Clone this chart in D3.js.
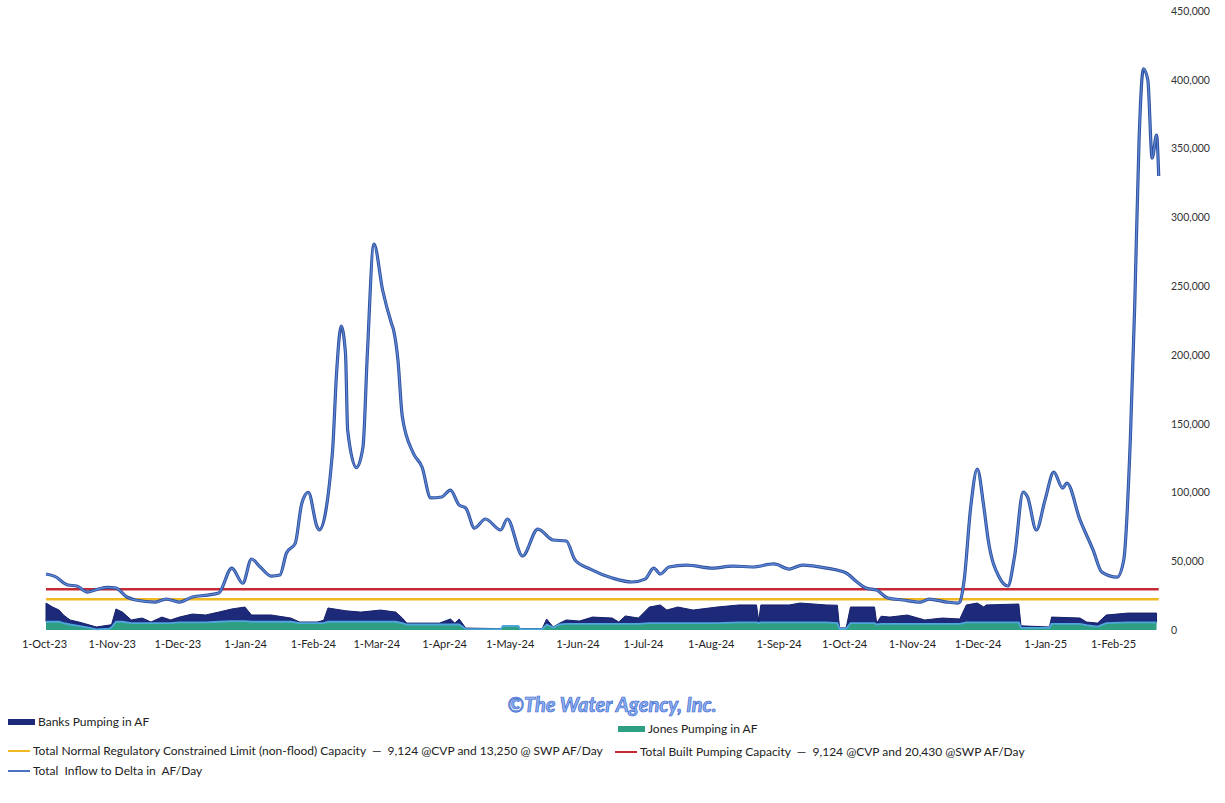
<!DOCTYPE html>
<html>
<head>
<meta charset="utf-8">
<script src="https://cdn.jsdelivr.net/npm/d3@7"></script>
<style>
  body { margin: 0; background: #fff; }
  svg { display: block; font-family: Lato, "Open Sans", sans-serif; }
</style>
</head>
<body>
<svg id="chart"></svg>
<script>
// Total inflow to Delta, AF/Day
const inflowDates = ["2023-10-01","2023-10-05","2023-10-11","2023-10-15","2023-10-20","2023-10-25","2023-10-29","2023-11-02","2023-11-07","2023-11-11","2023-11-20","2023-11-25","2023-12-01","2023-12-07","2023-12-14","2023-12-19","2023-12-25","2023-12-30",
  "2024-01-03","2024-01-07","2024-01-12","2024-01-16","2024-01-19","2024-01-23","2024-01-26","2024-01-29","2024-02-02","2024-02-03","2024-02-09","2024-02-11","2024-02-13","2024-02-15","2024-02-16","2024-02-20","2024-02-23","2024-02-25","2024-02-28",
  "2024-03-03","2024-03-07","2024-03-08","2024-03-10","2024-03-12","2024-03-17","2024-03-21","2024-03-25","2024-03-30","2024-04-03","2024-04-07","2024-04-10","2024-04-14","2024-04-19","2024-04-26","2024-04-29",
  "2024-05-06","2024-05-13","2024-05-20","2024-05-26","2024-05-30","2024-06-06","2024-06-16","2024-06-25","2024-07-01","2024-07-05","2024-07-08","2024-07-12","2024-07-20","2024-08-01","2024-08-10","2024-08-19","2024-08-29",
  "2024-09-05","2024-09-11","2024-09-22","2024-10-01","2024-10-06","2024-10-10","2024-10-15","2024-10-20","2024-10-27","2024-11-04","2024-11-08","2024-11-16","2024-11-21","2024-11-22","2024-11-24","2024-11-27","2024-11-30",
  "2024-12-03","2024-12-05","2024-12-10","2024-12-14","2024-12-17","2024-12-21","2024-12-23","2024-12-27","2024-12-31","2025-01-04","2025-01-08","2025-01-10","2025-01-16","2025-01-22","2025-01-26",
  "2025-02-02","2025-02-05","2025-02-08","2025-02-10","2025-02-12","2025-02-14","2025-02-16","2025-02-18","2025-02-20","2025-02-21"];
const inflowAF = [40700,39000,32700,32000,27600,29800,31000,30500,24000,21800,20300,22500,20300,24000,25400,26900,45000,34000,
  51600,45800,39200,40000,56000,63000,92000,100000,75000,72700,128600,189000,221000,201000,145000,118000,133000,201000,280500,
  247000,223000,218000,196000,155000,128600,118500,96000,96700,101700,90800,88700,74100,80700,72700,80700,
  53800,73400,65400,64700,50900,44300,37800,34900,37000,45000,40700,45800,47200,45000,46500,45800,48000,
  44300,47200,45000,41400,34900,30500,29000,23300,21800,20300,22500,20300,19600,20300,36300,89400,117000,
  89400,65400,38500,32000,53000,100300,96700,72700,94500,114800,103200,106800,80000,58100,42100,
  38500,50900,138000,234700,356000,408000,400000,343000,359700,330000];

// Pumping in AF (Banks stacked on Jones)
const pumpDates = ["2023-10-01","2023-10-04","2023-10-07","2023-10-09","2023-10-12","2023-10-16","2023-10-21","2023-10-24","2023-10-30","2023-10-31","2023-11-02","2023-11-05","2023-11-09","2023-11-14","2023-11-18","2023-11-23","2023-11-27",
  "2023-12-01","2023-12-07","2023-12-13","2023-12-19","2023-12-25","2023-12-31","2024-01-03","2024-01-12","2024-01-21","2024-01-25","2024-02-02","2024-02-05","2024-02-07","2024-02-15","2024-02-22",
  "2024-03-02","2024-03-09","2024-03-12","2024-03-14","2024-03-29","2024-04-03","2024-04-05","2024-04-07","2024-04-10","2024-04-26","2024-04-27","2024-05-04","2024-05-05","2024-05-15","2024-05-17","2024-05-20","2024-05-23","2024-05-26",
  "2024-06-01","2024-06-07","2024-06-16","2024-06-19","2024-06-22","2024-06-28","2024-07-03","2024-07-08","2024-07-11","2024-07-16","2024-07-23","2024-08-03","2024-08-13","2024-08-21","2024-08-22","2024-08-23",
  "2024-09-05","2024-09-10","2024-09-22","2024-09-27","2024-09-28","2024-10-01","2024-10-03","2024-10-14","2024-10-15","2024-10-17","2024-10-21","2024-10-29","2024-11-06","2024-11-14","2024-11-22","2024-11-25","2024-11-30",
  "2024-12-03","2024-12-04","2024-12-19","2024-12-20","2025-01-02","2025-01-03","2025-01-16","2025-01-19","2025-01-24","2025-01-28","2025-02-07","2025-02-20"];
const banksAF = [13600,10700,8500,5900,3300,2800,2100,1700,2600,2000,9300,7000,2300,3700,800,4400,2300,
  3900,6100,5400,7000,8800,10200,4900,4900,2700,800,800,2000,10000,8000,7000,
  8500,7000,3700,1000,1000,4000,1000,4000,600,400,0,0,400,400,4000,400,1000,2800,
  2000,4900,4200,1300,5700,4200,11700,13200,9500,11700,9500,11700,12700,12700,2000,12700,
  12700,14100,12700,13000,700,700,11700,11700,1000,5500,4900,6400,2800,4200,3500,12700,14100,
  11200,12700,13400,1500,700,4900,4200,2300,2500,5900,6800,6800];
const jonesAF = [6000,6000,6000,5000,4000,3000,1500,500,1000,2000,6000,6000,5000,5000,5000,5000,5000,
  5500,5500,5500,6000,6500,6500,6000,6000,6000,5000,5000,5000,6000,6000,6000,
  6000,6000,5000,4000,4000,4000,4000,4000,800,600,2900,2900,600,600,4000,1800,4000,4500,
  4500,4500,4500,4500,4500,4500,5000,5000,5000,5000,5000,5000,5500,5500,5000,5500,
  5500,5500,5500,5000,800,800,5000,5000,4000,4500,4500,4500,4500,4500,4500,5500,5500,
  5500,5500,5500,1500,1500,4500,4500,3500,2500,5000,5500,5500];

// capacities, AF/Day
const builtCapacity = 9124 + 20430;
const normalLimit = 9124 + 13250;

const xTickDates = ["2023-10-01","2023-11-01","2023-12-01","2024-01-01","2024-02-01","2024-03-01","2024-04-01","2024-05-01","2024-06-01","2024-07-01","2024-08-01","2024-09-01","2024-10-01","2024-11-01","2024-12-01","2025-01-01","2025-02-01"];
const yTicks = [0,50000,100000,150000,200000,250000,300000,350000,400000,450000];

const legendItems = [
  {label: "Banks Pumping in AF", kind: "rect", color: "#1d2a7a", x: 8, y: 722},
  {label: "Jones Pumping in AF", kind: "rect", color: "#2e9f82", x: 618, y: 729},
  {label: "Total Normal Regulatory Constrained Limit (non-flood) Capacity  \u2014  9,124 @CVP and 13,250 @ SWP AF/Day", kind: "line", color: "#f0b823", x: 8, y: 751},
  {label: "Total Built Pumping Capacity  \u2014  9,124 @CVP and 20,430 @SWP AF/Day", kind: "line", color: "#c42a34", x: 615, y: 752},
  {label: "Total  Inflow to Delta in  AF/Day", kind: "line", color: "#4a72c0", x: 8, y: 771}
];

const width = 1225, height = 803;
const parse = d3.timeParse("%Y-%m-%d");

const svg = d3.select("#chart")
    .attr("width", width)
    .attr("height", height)
    .style("background-color", "#fff");

const x = d3.scaleTime()
    .domain([parse("2023-10-01"), parse("2025-02-01")])
    .range([46, 1115]);

const y = d3.scaleLinear()
    .domain([0, 450000])
    .range([630, 11]);

// stacked pumping areas
const pumpRows = pumpDates.map((d, i) => ({date: parse(d), jones: jonesAF[i], banks: banksAF[i]}));
const stack = d3.stack().keys(["jones", "banks"]);
const series = stack(pumpRows);

const area = d3.area()
    .x(d => x(d.data.date))
    .y0(d => y(d[0]))
    .y1(d => y(d[1]));

svg.append("path")
    .datum(series[1])
    .attr("d", area)
    .attr("fill", "#1d2a7a")
    .attr("stroke", "#16206a")
    .attr("stroke-width", 1);

svg.append("path")
    .datum(series[0])
    .attr("d", area)
    .attr("fill", "#2e9f82");

// light blue edge on top of Jones
svg.append("path")
    .datum(series[0])
    .attr("d", d3.line().x(d => x(d.data.date)).y(d => y(d[1])))
    .attr("fill", "none")
    .attr("stroke", "#4fa6dc")
    .attr("stroke-width", 1.8);

// capacity lines
const xEnd = x(parse("2025-02-21"));
svg.append("line")
    .attr("x1", x(parse("2023-10-01"))).attr("x2", xEnd)
    .attr("y1", y(normalLimit)).attr("y2", y(normalLimit))
    .attr("stroke", "#f0b823")
    .attr("stroke-width", 2.5);

svg.append("line")
    .attr("x1", x(parse("2023-10-01"))).attr("x2", xEnd)
    .attr("y1", y(builtCapacity)).attr("y2", y(builtCapacity))
    .attr("stroke", "#c42a34")
    .attr("stroke-width", 2.5);

// inflow line
const inflow = inflowDates.map((d, i) => ({date: parse(d), v: inflowAF[i]}));
const inflowLine = d3.line().x(d => x(d.date)).y(d => y(d.v)).curve(d3.curveMonotoneX);
svg.append("path")
    .datum(inflow)
    .attr("d", inflowLine)
    .attr("fill", "none")
    .attr("stroke", "#2f4f9e")
    .attr("stroke-width", 3.2)
    .attr("stroke-linejoin", "round");
svg.append("path")
    .datum(inflow)
    .attr("d", inflowLine)
    .attr("fill", "none")
    .attr("stroke", "#5b86d2")
    .attr("stroke-width", 1.4)
    .attr("stroke-linejoin", "round");

// y axis on right
const yAxis = d3.axisRight(y)
    .tickValues(yTicks)
    .tickFormat(d3.format(","))
    .tickSize(0)
    .tickPadding(0);

const yg = svg.append("g")
    .attr("transform", "translate(1171,0)")
    .call(yAxis);
yg.select(".domain").remove();
yg.selectAll("text")
    .attr("fill", "#333")
    .style("font-size", "10.5px")
    .style("font-family", "Lato, sans-serif");

// x axis labels
const xAxis = d3.axisBottom(x)
    .tickValues(xTickDates.map(parse))
    .tickFormat(d3.timeFormat("%-d-%b-%y"))
    .tickSize(0)
    .tickPadding(0);

const xg = svg.append("g")
    .attr("transform", "translate(-2,640)")
    .call(xAxis);
xg.select(".domain").remove();
xg.selectAll("text")
    .attr("fill", "#222")
    .style("font-size", "11px")
    .style("font-family", "Lato, sans-serif");

// watermark title
svg.append("text")
    .attr("x", 612)
    .attr("y", 712)
    .attr("text-anchor", "middle")
    .style("font-size", "20px")
    .style("font-weight", "bold")
    .style("font-style", "italic")
    .style("font-family", "Lato, sans-serif")
    .attr("fill", "#8fb3f2")
    .attr("stroke", "#3d67cc")
    .attr("stroke-width", 0.7)
    .text("\u00a9The Water Agency, Inc.");

// legend
const lg = svg.append("g");
legendItems.forEach(item => {
    if (item.kind === "rect") {
        lg.append("rect")
            .attr("x", item.x).attr("y", item.y - 3)
            .attr("width", 27).attr("height", 6)
            .attr("fill", item.color);
    } else {
        lg.append("line")
            .attr("x1", item.x).attr("x2", item.x + 22)
            .attr("y1", item.y).attr("y2", item.y)
            .attr("stroke", item.color)
            .attr("stroke-width", 2);
    }
    lg.append("text")
        .attr("x", item.kind === "rect" ? item.x + 30 : item.x + 25)
        .attr("y", item.y + 4)
        .attr("fill", "#222")
        .style("font-size", "12px")
        .style("font-family", "Lato, sans-serif")
        .style("white-space", "pre")
        .text(item.label);
});
</script>
</body>
</html>
